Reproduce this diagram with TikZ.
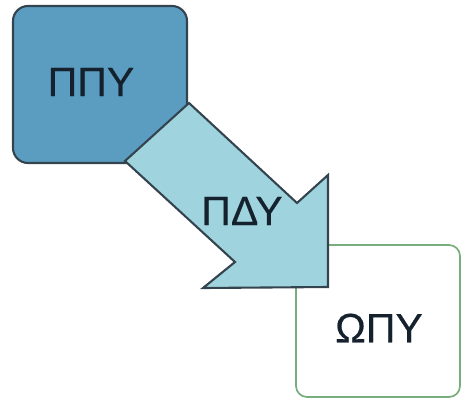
\documentclass[tikz,border=0pt]{standalone}
\usepackage{fontspec}
\setmainfont{Liberation Sans}
\newfontfamily\lblfont[FakeBold=0.4]{Liberation Sans}
\definecolor{boxblue}{HTML}{5A9DC1}
\definecolor{arrowcyan}{HTML}{9FD4DF}
\definecolor{edgedark}{HTML}{34444F}
\definecolor{edgegreen}{HTML}{78AE7C}
\definecolor{textdark}{HTML}{15222E}
\tikzset{
  lbl/.style={font=\lblfont\fontsize{41}{45}\selectfont, text=textdark, inner sep=0pt},
}
\begin{document}
\begin{tikzpicture}[x=1pt,y=-1pt]
\useasboundingbox (0,0) rectangle (462,401);
% target box
\draw[edgegreen, line width=1.7pt, fill=white, rounded corners=11pt] (296,245) rectangle (460,397);
% source box
\draw[edgedark, line width=2.1pt, fill=boxblue, rounded corners=15pt] (13,6) rectangle (187,163);
% arrow
\draw[edgedark, line width=2.1pt, fill=arrowcyan, line join=miter]
  (125,161) coordinate (a1) -- (189,103) coordinate (a2) -- (297,203) coordinate (a3)
  -- (328,175) coordinate (a4) -- (328,287) coordinate (a5) -- (203,288) coordinate (a6)
  -- (235,262) coordinate (a7) -- cycle;
\node[lbl] (src) at (91,82) {ΠΠΥ};
\node[lbl] (mid) at (242,211) {ΠΔΥ};
\node[lbl] (dst) at (379,328) {ΩΠΥ};
\end{tikzpicture}
\end{document}
